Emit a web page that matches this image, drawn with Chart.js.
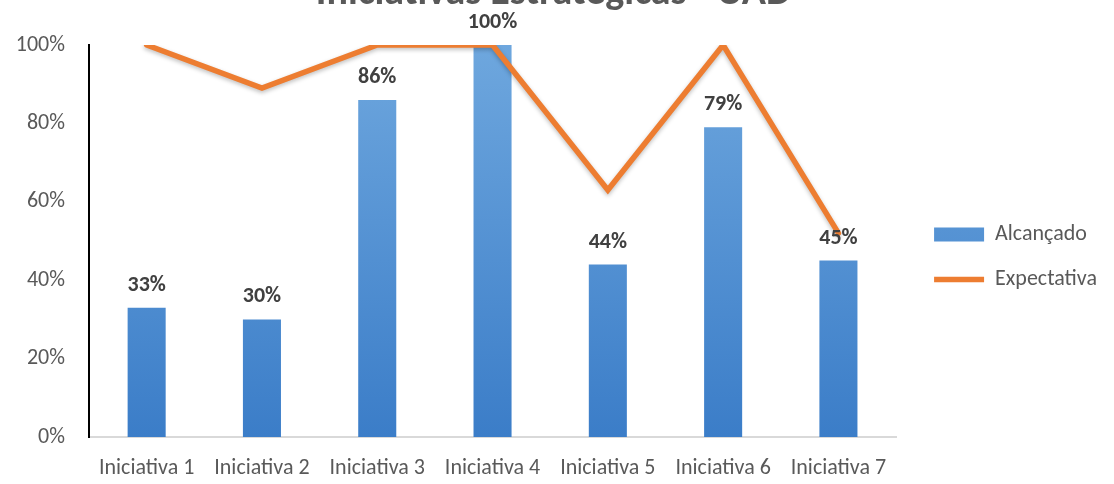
<!DOCTYPE html>
<html>
<head>
<meta charset="utf-8">
<script src="https://cdn.jsdelivr.net/npm/chart.js@4.4.1/dist/chart.umd.min.js"></script>
<style>
  html, body { margin: 0; padding: 0; background: #ffffff; }
  #wrap { position: relative; width: 1114px; height: 484px; overflow: hidden; }
  #holder { position: absolute; left: 0; top: -40px; width: 1114px; height: 524px; }
</style>
</head>
<body>
<div id="wrap"><div id="holder"><canvas id="c"></canvas></div></div>
<script>
const categories = ['Iniciativa 1', 'Iniciativa 2', 'Iniciativa 3', 'Iniciativa 4', 'Iniciativa 5', 'Iniciativa 6', 'Iniciativa 7'];
const alcancado = [33, 30, 86, 100, 44, 79, 45];
const expectativa = [100, 89, 100, 100, 63, 100, 52];
const yTicks = [0, 20, 40, 60, 80, 100];

const FONT = "Carlito, 'Liberation Sans Narrow', 'Open Sans', sans-serif";
const TEXT = '#595959';

function barGradient(context) {
  const chart = context.chart;
  const area = chart.chartArea;
  if (!area) return '#5B9BD5';
  const g = chart.ctx.createLinearGradient(0, area.top, 0, area.bottom);
  g.addColorStop(0, '#6EA7DE');
  g.addColorStop(1, '#3B7DC8');
  return g;
}

const barLabels = {
  id: 'barLabels',
  afterDatasetsDraw(chart) {
    const ctx = chart.ctx;
    const meta = chart.getDatasetMeta(1);
    ctx.save();
    ctx.font = "bold 22px " + FONT;
    ctx.fillStyle = '#404040';
    ctx.textAlign = 'center';
    ctx.textBaseline = 'alphabetic';
    meta.data.forEach((el, i) => {
      ctx.fillText(alcancado[i] + '%', el.x, el.y - 17);
    });
    ctx.restore();
  }
};

const lineShadow = {
  id: 'lineShadow',
  beforeDatasetDraw(chart, args) {
    if (args.index === 0) {
      const ctx = chart.ctx;
      ctx.save();
      ctx.shadowColor = 'rgba(0,0,0,0.25)';
      ctx.shadowBlur = 4;
      ctx.shadowOffsetY = 2;
    }
  },
  afterDatasetDraw(chart, args) {
    if (args.index === 0) chart.ctx.restore();
  }
};

new Chart(document.getElementById('c'), {
  data: {
    labels: categories,
    datasets: [
      {
        type: 'line',
        label: 'Expectativa',
        data: expectativa,
        borderColor: '#ED7D31',
        backgroundColor: '#ED7D31',
        borderWidth: 5.5,
        borderCapStyle: 'round',
        borderJoinStyle: 'miter',
        pointRadius: 0,
        pointHoverRadius: 0,
        pointStyle: 'line',
        tension: 0,
        fill: false
      },
      {
        type: 'bar',
        label: 'Alcançado',
        data: alcancado,
        backgroundColor: barGradient,
        borderWidth: 0,
        pointStyle: 'rect',
        barPercentage: 0.66,
        categoryPercentage: 0.5
      }
    ]
  },
  options: {
    responsive: true,
    maintainAspectRatio: false,
    animation: false,
    layout: { padding: { left: 0, right: 7, top: 0, bottom: 0 } },
    plugins: {
      tooltip: { enabled: false },
      title: {
        display: true,
        text: 'Iniciativas Estratégicas - UAD',
        color: TEXT,
        font: { family: FONT, size: 40, weight: 'bold' },
        padding: { top: 10, bottom: 27 }
      },
      legend: {
        position: 'right',
        align: 'center',
        maxWidth: 210,
        title: { display: true, text: ' ', font: { size: 10 }, padding: { top: 29, bottom: 29 } },
        labels: {
          usePointStyle: true,
          pointStyleWidth: 50,
          boxHeight: 14,
          padding: 23,
          color: TEXT,
          font: { family: FONT, size: 22 },
          sort: (a, b) => b.datasetIndex - a.datasetIndex
        }
      }
    },
    scales: {
      x: {
        grid: { display: false, drawTicks: false },
        border: { display: true, color: '#D9D9D9', width: 2 },
        ticks: { color: TEXT, font: { family: FONT, size: 22 }, padding: 18, maxRotation: 0 },
        afterFit(s) { s.height = 47; }
      },
      y: {
        min: 0,
        max: 100,
        afterBuildTicks(s) { s.ticks = yTicks.map(v => ({ value: v })); },
        grid: { display: false, drawTicks: false },
        border: { display: true, color: '#000000', width: 2 },
        ticks: { color: TEXT, font: { family: FONT, size: 22 }, padding: 24, callback: v => v + '%' },
        afterFit(s) { s.width = 89; }
      },
      y2: {
        position: 'right',
        display: true,
        grid: { display: false, drawTicks: false },
        border: { display: false },
        ticks: { display: false },
        afterFit(s) { s.width = 15; }
      }
    }
  },
  plugins: [barLabels, lineShadow]
});
</script>
</body>
</html>
